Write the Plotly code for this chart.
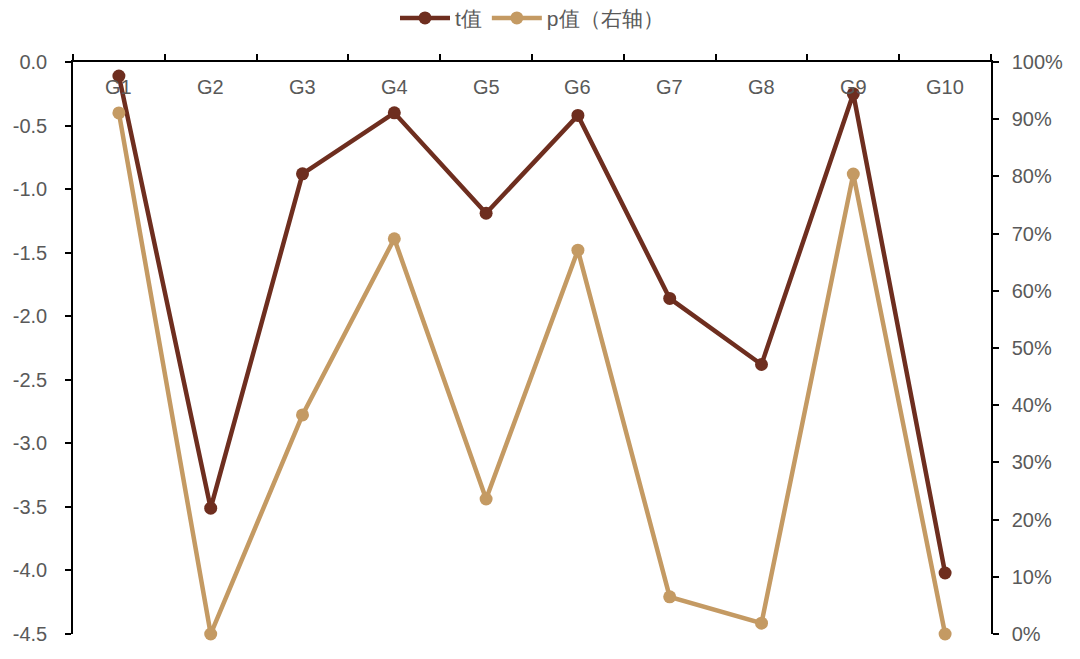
import plotly.graph_objects as go

categories = ["G1", "G2", "G3", "G4", "G5", "G6", "G7", "G8", "G9", "G10"]
t_values = [-0.11, -3.51, -0.88, -0.40, -1.19, -0.42, -1.86, -2.38, -0.25, -4.02]
p_values = [0.911, 0.0, 0.383, 0.691, 0.236, 0.671, 0.065, 0.019, 0.804, 0.0]
left_ticks = [0.0, -0.5, -1.0, -1.5, -2.0, -2.5, -3.0, -3.5, -4.0, -4.5]
right_ticks = [0.0, 0.1, 0.2, 0.3, 0.4, 0.5, 0.6, 0.7, 0.8, 0.9, 1.0]

t_color = "#6E2E1F"
p_color = "#C49A63"
font_color = "#595959"
font_family = "Liberation Sans, Arial, sans-serif"

fig = go.Figure()
fig.add_trace(go.Scatter(
    x=categories, y=t_values, name="t值", mode="lines+markers",
    line=dict(color=t_color, width=4.5), marker=dict(color=t_color, size=13),
    cliponaxis=False, yaxis="y"))
fig.add_trace(go.Scatter(
    x=categories, y=p_values, name="p值（右轴）", mode="lines+markers",
    line=dict(color=p_color, width=4.5), marker=dict(color=p_color, size=13),
    cliponaxis=False, yaxis="y2"))

for c in categories:
    fig.add_annotation(x=c, xref="x", y=1, yref="paper", yanchor="top", yshift=-12,
                       text=c, showarrow=False,
                       font=dict(size=20, color=font_color, family=font_family))

fig.update_layout(
    width=1064, height=643,
    margin=dict(l=65, r=81, t=54, b=17),
    paper_bgcolor="white", plot_bgcolor="white",
    font=dict(family=font_family, color=font_color, size=20),
    showlegend=True,
    legend=dict(orientation="h", x=0.5, xanchor="center", y=0.984, yanchor="middle",
                yref="container", font=dict(size=21, color=font_color),
                itemwidth=50, bgcolor="rgba(0,0,0,0)"),
    xaxis=dict(
        type="category", side="top", showline=True, linecolor="black", linewidth=1.5,
        ticks="outside", tickson="boundaries", ticklen=6, tickcolor="black", tickwidth=1.5,
        showticklabels=False, showgrid=False, zeroline=False, automargin=False,
        range=[-0.5, 9.5],
    ),
    yaxis=dict(
        range=[-4.5, 0], tickvals=left_ticks,
        ticktext=[f"{v:.1f}" for v in left_ticks],
        showline=True, linecolor="black", linewidth=1.5, ticks="outside", ticklen=6,
        tickcolor="black", tickwidth=1.5, ticklabelstandoff=14,
        showgrid=False, zeroline=False, automargin=False,
        tickfont=dict(size=20, color=font_color),
    ),
    yaxis2=dict(
        range=[0, 1], tickvals=right_ticks,
        ticktext=[f"{round(v * 100)}%" for v in right_ticks],
        overlaying="y", side="right",
        showline=True, linecolor="black", linewidth=1.5, ticks="outside", ticklen=6,
        tickcolor="black", tickwidth=1.5, ticklabelstandoff=9,
        showgrid=False, zeroline=False, automargin=False,
        tickfont=dict(size=20, color=font_color),
    ),
)

fig.write_html("out.html")
